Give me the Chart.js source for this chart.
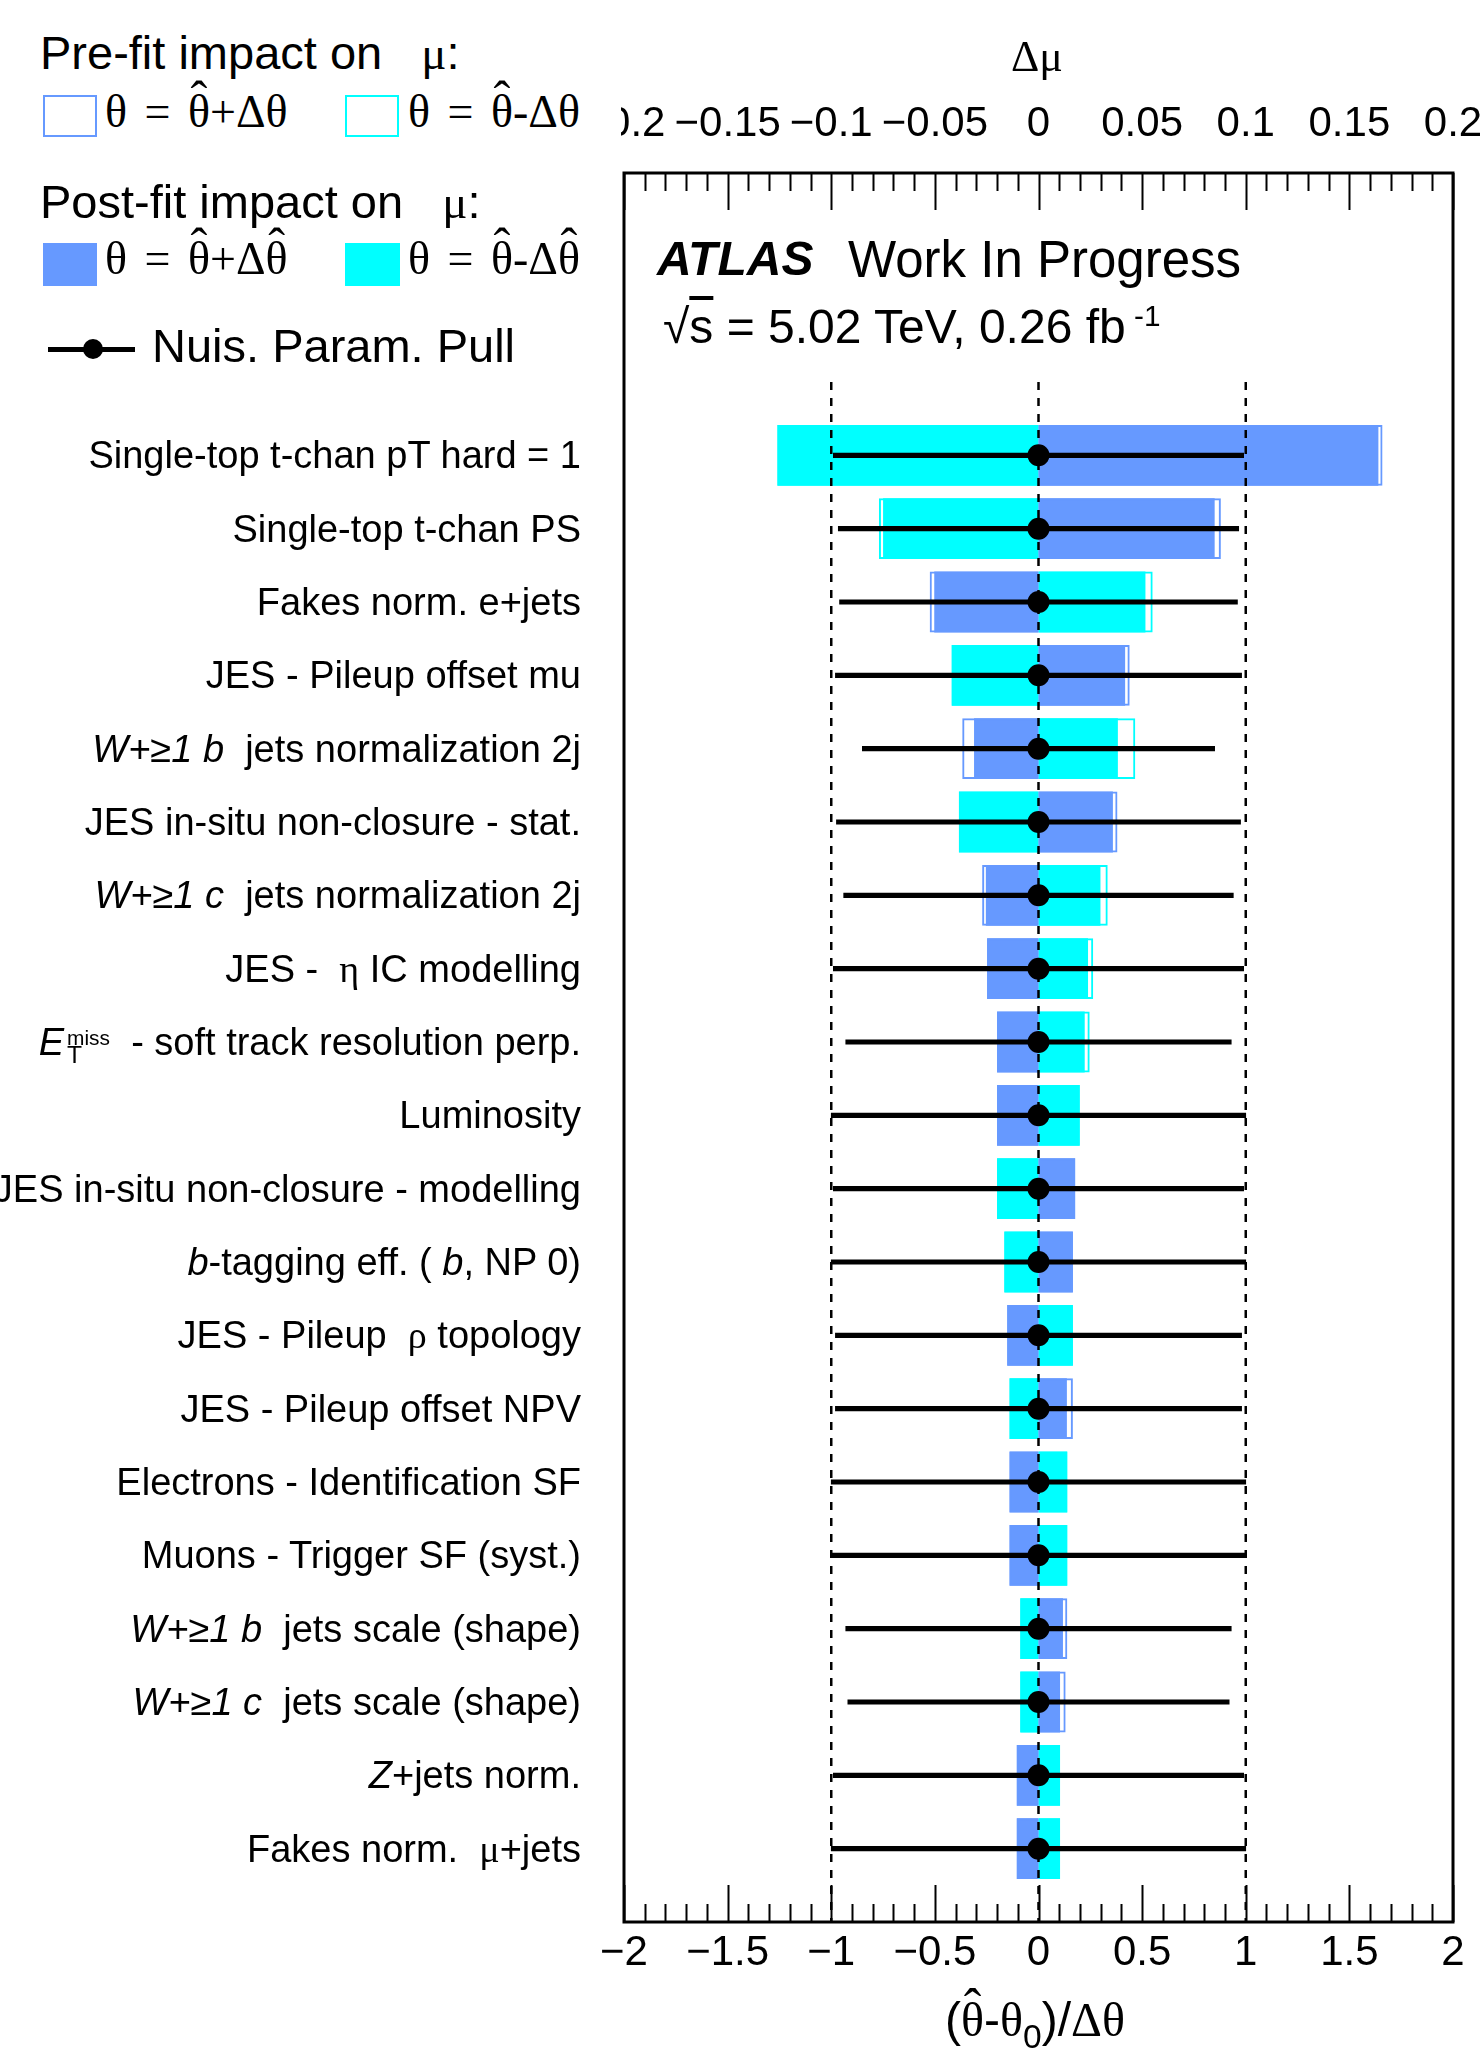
<!DOCTYPE html>
<html>
<head>
<meta charset="utf-8">
<script src="https://cdn.jsdelivr.net/npm/chart.js@4.4.1/dist/chart.umd.min.js"></script>
<style>
  html, body { margin: 0; padding: 0; background: #fff; }
  body { width: 1481px; height: 2048px; overflow: hidden; position: relative;
         font-family: "Liberation Sans", Arial, Helvetica, sans-serif; color: #000; }
  #c { position: absolute; left: 0; top: 0; }
  .t { position: absolute; white-space: nowrap; line-height: 1; }
  .g { font-family: "Liberation Serif", "Times New Roman", serif; }
  .lbl { position: absolute; white-space: nowrap; line-height: 1; font-size: 38px;
         transform: translate(-100%, -50%); }
  .sb { position: relative; top: 0.32em; font-size: 0.65em; margin-left: 3px; }
  .sp { position: relative; top: -0.5em; font-size: 0.55em; margin-left: -15px; }
  .box { position: absolute; box-sizing: border-box; }
  .hat { position: relative; display: inline-block; }
  .hat::after { content: '\02C6'; position: absolute; left: 0; right: 0; text-align: center;
                top: -0.3em; font-size: 1.1em; line-height: 1; }
</style>
</head>
<body>
<canvas id="c" width="1481" height="2048"></canvas>
<div class="box" style="left:0;top:0;width:621px;height:160px;background:#fff"></div>
<script>
// nuisance parameters, top to bottom
const labels = [
    'Single-top t-chan pT hard = 1',
    'Single-top t-chan PS',
    'Fakes norm. e+jets',
    'JES - Pileup offset mu',
    '<i>W+≥1 b</i>&nbsp; jets normalization 2j',
    'JES in-situ non-closure - stat.',
    '<i>W+≥1 c</i>&nbsp; jets normalization 2j',
    'JES - &nbsp;<span class="g">η</span> IC modelling',
    '<i>E</i><span class="sb">T</span><span class="sp">miss</span>&nbsp; - soft track resolution perp.',
    'Luminosity',
    'JES in-situ non-closure - modelling',
    '<i>b</i>-tagging eff. ( <i>b</i>, NP 0)',
    'JES - Pileup &nbsp;<span class="g">ρ</span> topology',
    'JES - Pileup offset NPV',
    'Electrons - Identification SF',
    'Muons - Trigger SF (syst.)',
    '<i>W+≥1 b</i>&nbsp; jets scale (shape)',
    '<i>W+≥1 c</i>&nbsp; jets scale (shape)',
    '<i>Z</i>+jets norm.',
    'Fakes norm. &nbsp;<span class="g">μ</span>+jets'
];

// impact on mu (delta mu)
const preUp    = [0.166, 0.088, -0.0525, 0.044, -0.0368, 0.0381, -0.0272, -0.0248, -0.020, -0.020,
                  0.0177, 0.0166, -0.0151, 0.0166, -0.014, -0.014, 0.0139, 0.0131, -0.0105, -0.0105];
const preDown  = [-0.126, -0.077, 0.0551, -0.0419, 0.0467, -0.0384, 0.0334, 0.0264, 0.0247, 0.0199,
                  -0.020, -0.0165, 0.0166, -0.014, 0.0139, 0.0139, -0.0088, -0.0088, 0.0104, 0.0104];
const postUp   = [0.164, 0.085, -0.0503, 0.0418, -0.0311, 0.0359, -0.0254, -0.0248, -0.020, -0.020,
                  0.0177, 0.0166, -0.0151, 0.0137, -0.014, -0.014, 0.0118, 0.0104, -0.0105, -0.0105];
const postDown = [-0.126, -0.075, 0.0516, -0.0419, 0.0383, -0.0384, 0.0299, 0.0239, 0.0223, 0.0199,
                  -0.020, -0.0165, 0.0166, -0.014, 0.0139, 0.0139, -0.0088, -0.0088, 0.0104, 0.0104];

// pulls (theta_hat - theta0)/dtheta and their errors
const pull    = [0, 0, 0, 0, 0, 0, 0, 0, 0, 0, 0, 0, 0, 0, 0, 0, 0, 0, 0, 0];
const pullErr = [0.99, 0.966, 0.96, 0.98, 0.85, 0.975, 0.94, 0.99, 0.93, 1.0,
                 0.99, 1.0, 0.98, 0.98, 1.0, 1.0, 0.93, 0.92, 0.99, 1.0];

const refLines = [-1, 0, 1];
const pullTicks = [-2, 2];      // bottom axis range
const impactTicks = [-0.2, 0.2]; // top axis range

const BLUE = '#6699ff';
const CYAN = '#00ffff';
const SANS = '"Liberation Sans", Arial, Helvetica, sans-serif';

function fmt(v) {
    const r = Math.round(v * 100) / 100;
    return (r < 0 ? '\u2212' : '') + String(Math.abs(r));
}

function impactBars(vals, filled, color) {
    return {
        type: 'bar',
        indexAxis: 'y',
        xAxisID: 'x2',
        yAxisID: 'y',
        data: vals.map((v, i) => ({ x: [0, v], y: i })),
        backgroundColor: filled ? color : 'rgba(0,0,0,0)',
        borderColor: color,
        borderWidth: filled ? 0 : 2,
        borderSkipped: false,
        grouped: false,
        barPercentage: 0.83,
        categoryPercentage: 1,
        order: filled ? 4 : 3,
    };
}

const datasets = [
    {
        type: 'scatter',
        xAxisID: 'x',
        yAxisID: 'y',
        data: pull.map((v, i) => ({ x: v, y: i })),
        backgroundColor: '#000',
        borderWidth: 0,
        pointRadius: 11,
        order: 0,
    },
    {
        type: 'bar',
        indexAxis: 'y',
        xAxisID: 'x',
        yAxisID: 'y',
        data: pull.map((v, i) => ({ x: [v - pullErr[i], v + pullErr[i]], y: i })),
        backgroundColor: '#000',
        barThickness: 4.5,
        grouped: false,
        order: 1,
    },
];
refLines.forEach((v) => {
    datasets.push({
        type: 'line',
        xAxisID: 'x',
        yAxisID: 'y',
        data: [{ x: v, y: -1 }, { x: v, y: 20 }],
        borderColor: '#000',
        borderWidth: 2.5,
        borderDash: [8, 8],
        pointRadius: 0,
        order: 2,
    });
});
datasets.push(impactBars(preUp, false, BLUE));
datasets.push(impactBars(preDown, false, CYAN));
datasets.push(impactBars(postUp, true, BLUE));
datasets.push(impactBars(postDown, true, CYAN));

// frame with inward ticks (ROOT style)
const frameTicks = {
    id: 'frameTicks',
    afterDraw(chart) {
        const { ctx, chartArea: a, scales } = chart;
        ctx.save();
        ctx.strokeStyle = '#000';
        ctx.lineWidth = 2;
        ctx.beginPath();
        for (let k = -20; k <= 20; k++) {
            const len = k % 5 === 0 ? 37 : 18;
            const pb = Math.round(scales.x.getPixelForValue(k / 10)) + 0.5;
            ctx.moveTo(pb, a.bottom);
            ctx.lineTo(pb, a.bottom - len);
            const pt = Math.round(scales.x2.getPixelForValue(k / 100)) + 0.5;
            ctx.moveTo(pt, a.top);
            ctx.lineTo(pt, a.top + len);
        }
        ctx.stroke();
        ctx.lineWidth = 3;
        ctx.strokeRect(a.left, a.top, a.right - a.left, a.bottom - a.top);
        ctx.restore();
    },
};

function xAxis(pos, range, step, h, pad) {
    return {
        type: 'linear',
        position: pos,
        axis: 'x',
        min: range[0],
        max: range[1],
        offset: false,
        grid: { display: false, drawTicks: false },
        border: { display: false },
        ticks: {
            stepSize: step,
            autoSkip: false,
            maxRotation: 0,
            minRotation: 0,
            padding: pad,
            color: '#000',
            font: { family: SANS, size: 42 },
            callback: (v) => fmt(v),
        },
        afterFit: (s) => {
            s.height = h;
            s.paddingLeft = 0;
            s.paddingRight = 0;
        },
    };
}

const chart = new Chart(document.getElementById('c'), {
    type: 'bar',
    data: { datasets: datasets },
    options: {
        responsive: false,
        animation: false,
        devicePixelRatio: 1,
        events: [],
        layout: { padding: { left: 624, right: 28, top: 0, bottom: 0 }, autoPadding: false },
        plugins: { legend: { display: false }, tooltip: { enabled: false } },
        scales: {
            x: xAxis('bottom', pullTicks, 0.5, 126, 6),
            x2: xAxis('top', impactTicks, 0.05, 173, 23),
            y: {
                type: 'linear',
                display: false,
                reverse: true,
                min: -3.85,
                max: 20,
                offset: false,
                ticks: { stepSize: 1, includeBounds: false },
            },
        },
    },
    plugins: [frameTicks],
});

// text helpers
function put(html, x, base, size, opts) {
    opts = opts || {};
    const d = document.createElement('div');
    d.className = 't' + (opts.serif ? ' g' : '');
    d.innerHTML = html;
    d.style.fontSize = size + 'px';
    d.style.left = x + 'px';
    d.style.top = (base - (opts.serif ? 0.8375 : 0.8465) * size) + 'px';
    if (opts.center) d.style.transform = 'translateX(-50%)';
    document.body.appendChild(d);
    return d;
}
function box(x, y, w, h, style) {
    const d = document.createElement('div');
    d.className = 'box';
    d.style.cssText += `left:${x}px;top:${y}px;width:${w}px;height:${h}px;` + style;
    document.body.appendChild(d);
}
const TH = '<span class="hat">θ</span>';

// legend
put('Pre-fit impact on &nbsp; <span class="g">μ</span>:', 40, 69, 47);
box(43, 95, 54, 42, `border:2px solid ${BLUE}`);
box(345, 95, 54, 42, `border:2px solid ${CYAN}`);
put(`θ = ${TH}+Δθ`, 105, 128, 46, { serif: true }).style.wordSpacing = '6px';
put(`θ = ${TH}-Δθ`, 408, 128, 46, { serif: true }).style.wordSpacing = '6px';

put('Post-fit impact on &nbsp; <span class="g">μ</span>:', 40, 218, 47);
box(43, 243, 54, 43, `background:${BLUE}`);
box(345, 243, 55, 43, `background:${CYAN}`);
put(`θ = ${TH}+Δ${TH}`, 105, 275, 46, { serif: true }).style.wordSpacing = '6px';
put(`θ = ${TH}-Δ${TH}`, 408, 275, 46, { serif: true }).style.wordSpacing = '6px';

box(48, 347, 87, 5, 'background:#000');
box(83, 339, 20, 20, 'background:#000;border-radius:50%');
put('Nuis. Param. Pull', 152, 362, 47);

// ATLAS label
put('<b><i>ATLAS</i></b>', 657, 276, 48);
put('Work In Progress', 848, 277, 51);
put('√<span style="text-decoration:overline">s</span> = 5.02 TeV, 0.26 fb<span style="position:relative;top:-0.6em;font-size:0.62em"> -1</span>', 663, 344, 48);

// axis titles
put('Δμ', 1037, 72, 44, { serif: true, center: true });
put(`(<span class="g">${TH}</span>-<span class="g">θ</span><span style="position:relative;top:0.35em;font-size:0.7em">0</span>)/<span class="g">Δθ</span>`, 1035, 2037, 48, { center: true });

// parameter names, aligned on the y scale rows
const yScale = chart.scales.y;
labels.forEach((html, i) => {
    const d = document.createElement('div');
    d.className = 'lbl';
    d.innerHTML = html;
    d.style.left = (chart.chartArea.left - 43) + 'px';
    d.style.top = yScale.getPixelForValue(i) + 'px';
    document.body.appendChild(d);
});
</script>
</body>
</html>
